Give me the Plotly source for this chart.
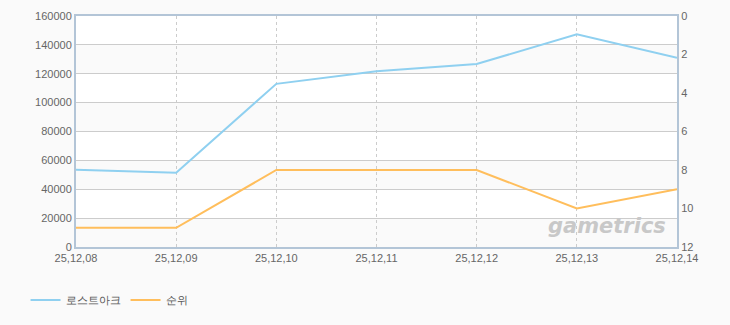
import plotly.graph_objects as go

dates = ["25,12,08", "25,12,09", "25,12,10", "25,12,11", "25,12,12", "25,12,13", "25,12,14"]
users = [53500, 51500, 113000, 121800, 126800, 147300, 131000]
rank = [11, 11, 8, 8, 8, 10, 9]
y_ticks = [0, 20000, 40000, 60000, 80000, 100000, 120000, 140000, 160000]
y_tick_labels = [str(v) for v in y_ticks]
rank_ticks = [0, 2, 4, 6, 8, 10, 12]

BLUE = "#8fd0f0"
ORANGE = "#ffbe5c"
FRAME = "#b3c5d7"
FONT = "Liberation Sans, Arial, sans-serif"

fig = go.Figure()
fig.add_trace(go.Scatter(x=dates, y=users, name="로스트아크", mode="lines",
                         line=dict(color=BLUE, width=2), yaxis="y"))
fig.add_trace(go.Scatter(x=dates, y=rank, name="순위", mode="lines",
                         line=dict(color=ORANGE, width=2), yaxis="y2"))

shapes = []
for i in range(0, len(y_ticks) - 1):
    if i % 2 == 0:
        shapes.append(dict(type="rect", xref="paper", yref="y", x0=0, x1=1,
                           y0=y_ticks[i], y1=y_ticks[i + 1], fillcolor="#fafafa",
                           line=dict(width=0), layer="below"))

fig.add_annotation(text="<b><i>gametrics</i></b>", xref="paper", yref="paper",
                   x=0.985, y=0.03, xanchor="right", yanchor="bottom", showarrow=False,
                   font=dict(family="DejaVu Sans, sans-serif", size=21, color="#c8c8c8"))

fig.update_layout(
    width=730, height=325,
    margin=dict(l=76, r=53, t=16, b=78, autoexpand=False),
    paper_bgcolor="#fafafa", plot_bgcolor="#ffffff",
    font=dict(family=FONT, size=11, color="#666666"),
    shapes=shapes,
    showlegend=True,
    legend=dict(orientation="h", x=0.035, xref="container", y=0.077, yref="container",
                xanchor="left", yanchor="middle", itemwidth=30,
                font=dict(size=11, color="#555555"), bgcolor="rgba(0,0,0,0)"),
    xaxis=dict(type="category", range=[0, len(dates) - 1], showgrid=True,
               gridcolor="#cccccc", griddash="3px,3px", gridwidth=1,
               showline=True, linecolor=FRAME, linewidth=2, mirror=True,
               ticks="", tickfont=dict(size=11, color="#666666"), zeroline=False),
    yaxis=dict(range=[0, 160000], tickvals=y_ticks, ticktext=y_tick_labels,
               showgrid=True, gridcolor="#cccccc",
               showline=True, linecolor=FRAME, linewidth=2, ticks="", zeroline=False,
               tickfont=dict(size=11, color="#666666")),
    yaxis2=dict(range=[12, 0], tickvals=rank_ticks, overlaying="y", side="right",
                showgrid=False, showline=True, linecolor=FRAME, linewidth=2, ticks="",
                zeroline=False, tickfont=dict(size=11, color="#666666")),
)

fig.write_html("out.html")
